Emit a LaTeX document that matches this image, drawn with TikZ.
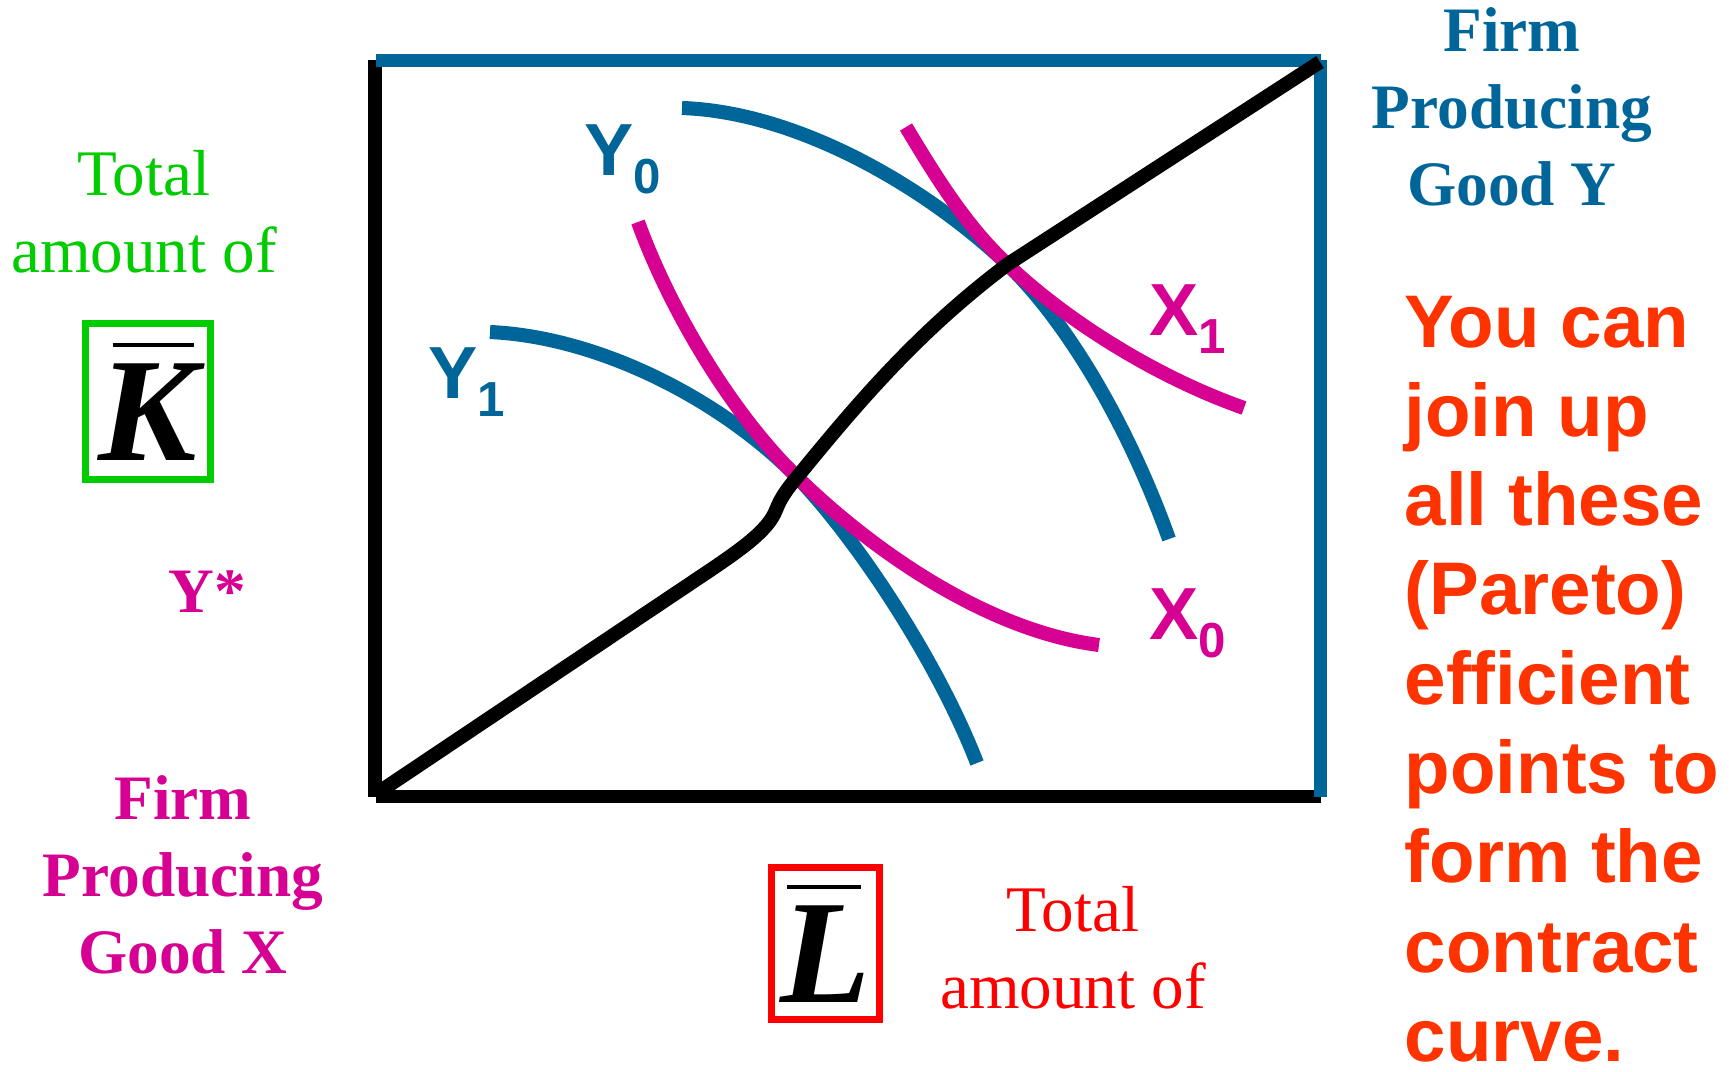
\documentclass[tikz,border=0pt]{standalone}
\usepackage{fontspec}
\setmainfont{Liberation Serif}
\newfontfamily\arialfont{Liberation Sans}
\definecolor{firmblue}{RGB}{0,102,153}
\definecolor{firmmag}{RGB}{214,0,147}
\definecolor{kgreen}{RGB}{0,204,0}
\definecolor{lred}{RGB}{255,0,0}
\definecolor{noteorange}{RGB}{255,51,0}
\newcommand{\qsub}[1]{\raisebox{-5.2pt}{\fontsize{14pt}{14pt}\selectfont #1}}
\newcommand{\barletter}[3]{\vbox{\offinterlineskip\hbox{\kern#2\rule{#3}{1.2pt}}\kern4.6pt\hbox{\bfseries\itshape #1}}}
\tikzset{
  boxline/.style={line width=3.7pt},
  isoY/.style={firmblue, line width=4pt},
  isoX/.style={firmmag, line width=4pt},
  contract/.style={black, line width=4pt},
  qlabel/.style={inner sep=0pt, anchor=base west, font=\arialfont\bfseries\fontsize{21pt}{21pt}\selectfont},
  serif/.style={inner sep=0pt, align=center, font=\fontsize{18.5pt}{21.9pt}\selectfont},
  firmtext/.style={inner sep=0pt, align=center, font=\bfseries\fontsize{18pt}{21.9pt}\selectfont},
  totbox/.style={inner sep=0pt, line width=2pt, font=\fontsize{42pt}{42pt}\selectfont}
}
\begin{document}
\begin{tikzpicture}[x=0.01cm, y=-0.01cm]
\useasboundingbox (0,0) rectangle (1729,1072);

% edgeworth box
\draw[boxline] (375,60) -- (375,797);
\draw[boxline] (376,796) -- (1321,796);
\draw[boxline, firmblue] (376,60) -- (1321,60);
\draw[boxline, firmblue] (1320,60) -- (1320,797);

% isoquants
\draw[isoY] (682,108) .. controls (800,112) and (930,190) .. (1008,265)
  .. controls (1070,325) and (1130,430) .. (1169,539);
\draw[isoY] (490,332) .. controls (600,337) and (720,400) .. (793,473)
  .. controls (850,530) and (935,655) .. (977,763);
\draw[isoX] (638,222) .. controls (670,310) and (730,410) .. (793,473)
  .. controls (860,540) and (980,630) .. (1099,645);
\draw[isoX] (906,127) .. controls (935,175) and (965,225) .. (1008,265)
  .. controls (1060,315) and (1150,375) .. (1244,408);

% contract curve
\draw[contract] (376,794) -- (700,577) .. controls (745,547) and (768,530) .. (776,510)
  .. controls (781,497) and (788,488) .. (798,476)
  .. controls (860,400) and (920,330) .. (1008,264) -- (1320,62);

\node[qlabel, firmblue] (y0) at (584,175) {Y\qsub{0}};
\node[qlabel, firmblue] (y1) at (428,398) {Y\qsub{1}};
\node[qlabel, firmmag] (x1) at (1149,335) {X\qsub{1}};
\node[qlabel, firmmag] (x0) at (1149,639) {X\qsub{0}};

\node[serif, kgreen] (totK) at (144,212) {Total\\amount of};
\node[totbox, draw=kgreen, minimum width=1.25cm, minimum height=1.56cm] (kbar) at (148,401.5)
  {\barletter{K}{4pt}{23pt}};
\node[inner sep=0pt, anchor=base, firmmag, font=\bfseries\fontsize{18pt}{18pt}\selectfont] (ystar) at (207,612) {Y*};
\node[firmtext, firmmag] (firmX) at (183,875) {Firm\\Producing\\Good X};
\node[firmtext, firmblue] (firmY) at (1512,107) {Firm\\Producing\\Good Y};

\node[totbox, draw=lred, minimum width=1.08cm, minimum height=1.52cm] (lbar) at (825.5,943.5)
  {\barletter{L}{2pt}{21pt}};
\node[serif, lred] (totL) at (1073,947.5) {Total\\amount of};

\node[inner sep=0pt, anchor=north west, align=left, noteorange,
  font=\arialfont\bfseries\fontsize{21.2pt}{25.4pt}\selectfont] (note) at (1404,295)
  {You can\\join up\\all these\\(Pareto)\\efficient\\points to\\form the\\contract\\curve.};
\end{tikzpicture}
\end{document}
